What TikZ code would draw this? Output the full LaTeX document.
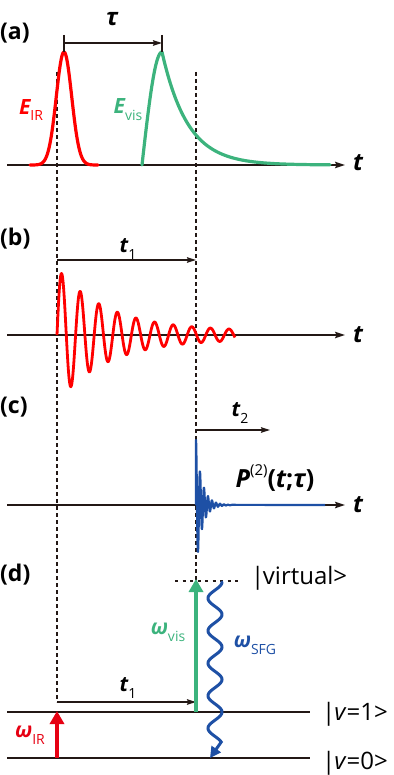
\documentclass[tikz,border=0pt]{standalone}
\usepackage{fontspec}
\setmainfont{Open Sans}
\usetikzlibrary{arrows.meta}
\definecolor{ink}{RGB}{35,24,21}
\definecolor{pred}{RGB}{255,0,0}
\definecolor{ared}{RGB}{230,0,18}
\definecolor{pgreen}{RGB}{60,179,125}
\definecolor{pblue}{RGB}{30,80,165}
\newcommand{\bitx}[1]{{\bfseries\itshape #1}}
\newcommand{\subtx}[1]{\raisebox{-0.33em}{\fontsize{14}{14}\selectfont #1}}
\begin{document}
\begin{tikzpicture}[x=1pt,y=-1pt,
  axisline/.style={line width=1.5pt,draw=ink,-{Stealth[length=10pt,width=6.5pt,inset=1.5pt]}},
  timearrow/.style={line width=1.5pt,draw=ink,-{Stealth[length=9pt,width=5.5pt,inset=1.2pt]}},
  guide/.style={line width=1.4pt,draw=ink,dash pattern=on 4pt off 3pt},
  level/.style={line width=1.6pt,draw=ink},
  pulse/.style={line width=3.2pt,line join=round,line cap=round},
  trans/.style={line width=3.5pt,-{Triangle[length=13pt,width=14pt]}},
  panel/.style={font=\fontsize{23}{27}\selectfont\bfseries,anchor=west,inner sep=0pt},
  tlab/.style={font=\fontsize{24}{28}\selectfont\bfseries\itshape,inner sep=0pt},
  lab/.style={font=\fontsize{21}{25}\selectfont,inner sep=0pt},
  ket/.style={font=\fontsize{24}{28}\selectfont,anchor=west,inner sep=0pt}]
\useasboundingbox (0,0) rectangle (393,775);

% coordinates
\coordinate (a0) at (7,165);   \coordinate (a1) at (345,165);
\coordinate (b0) at (7,335);   \coordinate (b1) at (345,335);
\coordinate (c0) at (7,505);   \coordinate (c1) at (345,505);
\coordinate (g1top) at (57,72);  \coordinate (g1bot) at (57,702);
\coordinate (g2top) at (196,72); \coordinate (g2bot) at (196,581);
\coordinate (tauL) at (64,43);  \coordinate (tauR) at (162,43);
\coordinate (tauLt) at (64,35); \coordinate (tauLb) at (64,52);
\coordinate (tauRt) at (162,35); \coordinate (tauRb) at (162,52);
\coordinate (tbL) at (57,260); \coordinate (tbR) at (196,260);
\coordinate (tcL) at (196,430); \coordinate (tcR) at (270,430);
\coordinate (tdL) at (57,702); \coordinate (tdR) at (196,702);
\coordinate (v1L) at (7,712);  \coordinate (v1R) at (310,712);
\coordinate (v0L) at (7,758);  \coordinate (v0R) at (310,758);
\coordinate (virtL) at (175,581); \coordinate (virtR) at (240,581);
\coordinate (irS) at (57,758); \coordinate (irE) at (57,711);
\coordinate (visS) at (196,712); \coordinate (visE) at (196,579);
\coordinate (sfgtip) at (210,758);
\coordinate (ringS) at (196,505); \coordinate (ringE) at (325,505);

% guides
\draw[guide] (g1top) -- (g1bot);
\draw[guide] (g2top) -- (g2bot);

% axes
\draw[axisline] (a0) -- (a1);
\draw[axisline] (b0) -- (b1);
\draw[axisline] (c0) -- (c1);

% (a) pulses
\draw[pulse,pred] plot[domain=30:98,samples=90] (\x,{165-113*exp(-((\x-64)/7.7)^2/2)});
\draw[pulse,pgreen] plot[domain=142:162,samples=30] (\x,{165-113*sin(4.5*(\x-142))})
  -- plot[domain=162:330,samples=120] (\x,{165-113*exp(-(\x-162)/25.6)});
\draw[ink,line width=1.5pt] (tauLt) -- (tauLb);
\draw[ink,line width=1.5pt] (tauRt) -- (tauRb);
\draw[timearrow] (tauL) -- (tauR);

% (b) free induction decay
\draw[pred,line width=2.8pt,line join=round] plot[domain=57:235,samples=600]
  (\x,{335-(63*exp(-(\x-57)/50)+4)*sin(19.355*(\x-57))});
\draw[timearrow] (tbL) -- (tbR);

% (c) polarization
\draw[pblue,line width=2.2pt,line join=round] (ringS) -- plot[domain=196:232,samples=500]
  (\x,{505-65*exp(-(\x-196)/6)*cos(90*(\x-196))}) -- (ringE);
\draw[timearrow] (tcL) -- (tcR);

% (d) energy levels
\draw[level] (v1L) -- (v1R);
\draw[level] (v0L) -- (v0R);
\draw[ink,line width=2.6pt,dash pattern=on 3pt off 4.5pt] (virtL) -- (virtR);
\draw[timearrow] (tdL) -- (tdR);
\draw[trans,ared] (irS) -- (irE);
\draw[trans,pgreen] (visS) -- (visE);
\draw[pblue,line width=3pt,line cap=round,-{Triangle[length=11pt,width=11pt]}]
  plot[domain=582:742,samples=200] ({215+7*cos(11.077*(\x-582))},\x) -- (sfgtip);

% labels
\node[panel] (pa) at (0,33) {(a)};
\node[panel] (pb) at (0,239) {(b)};
\node[panel] (pc) at (0,407) {(c)};
\node[panel] (pd) at (0,575) {(d)};
\node[tlab] (tau) at (112,19) {τ};
\node[lab,pred] (eir) at (31,110) {\bitx{E}\subtx{IR}};
\node[lab,pgreen] (evis) at (128,110) {\bitx{E}\subtx{vis}};
\node[tlab] (ta) at (358,163) {t};
\node[tlab] (tb) at (358,335) {t};
\node[tlab] (tc) at (358,505) {t};
\node[lab] (t1b) at (128,249) {\bitx{t}\subtx{1}};
\node[lab] (t2c) at (240,413) {\bitx{t}\subtx{2}};
\node[lab] (t1d) at (128,688) {\bitx{t}\subtx{1}};
\node[lab,font=\fontsize{25}{29}\selectfont] (pol) at (275,478) {\bitx{P}\raisebox{0.45em}{\fontsize{15}{15}\selectfont (2)}{\bfseries(\bitx{t};\bitx{τ})}};
\node[lab,pgreen] (wvis) at (168,632) {\bitx{ω}\subtx{vis}};
\node[lab,pblue] (wsfg) at (255,645) {\bitx{ω}\subtx{SFG}};
\node[lab,ared] (wir) at (30,735) {\bitx{ω}\subtx{IR}};
\node[ket] (kv) at (251,578) {|\kern-1.5pt virtual>};
\node[ket] (k1) at (322,714) {|\kern-1pt\textit{v}=1>};
\node[ket] (k0) at (322,763) {|\kern-1pt\textit{v}=0>};
\end{tikzpicture}
\end{document}
